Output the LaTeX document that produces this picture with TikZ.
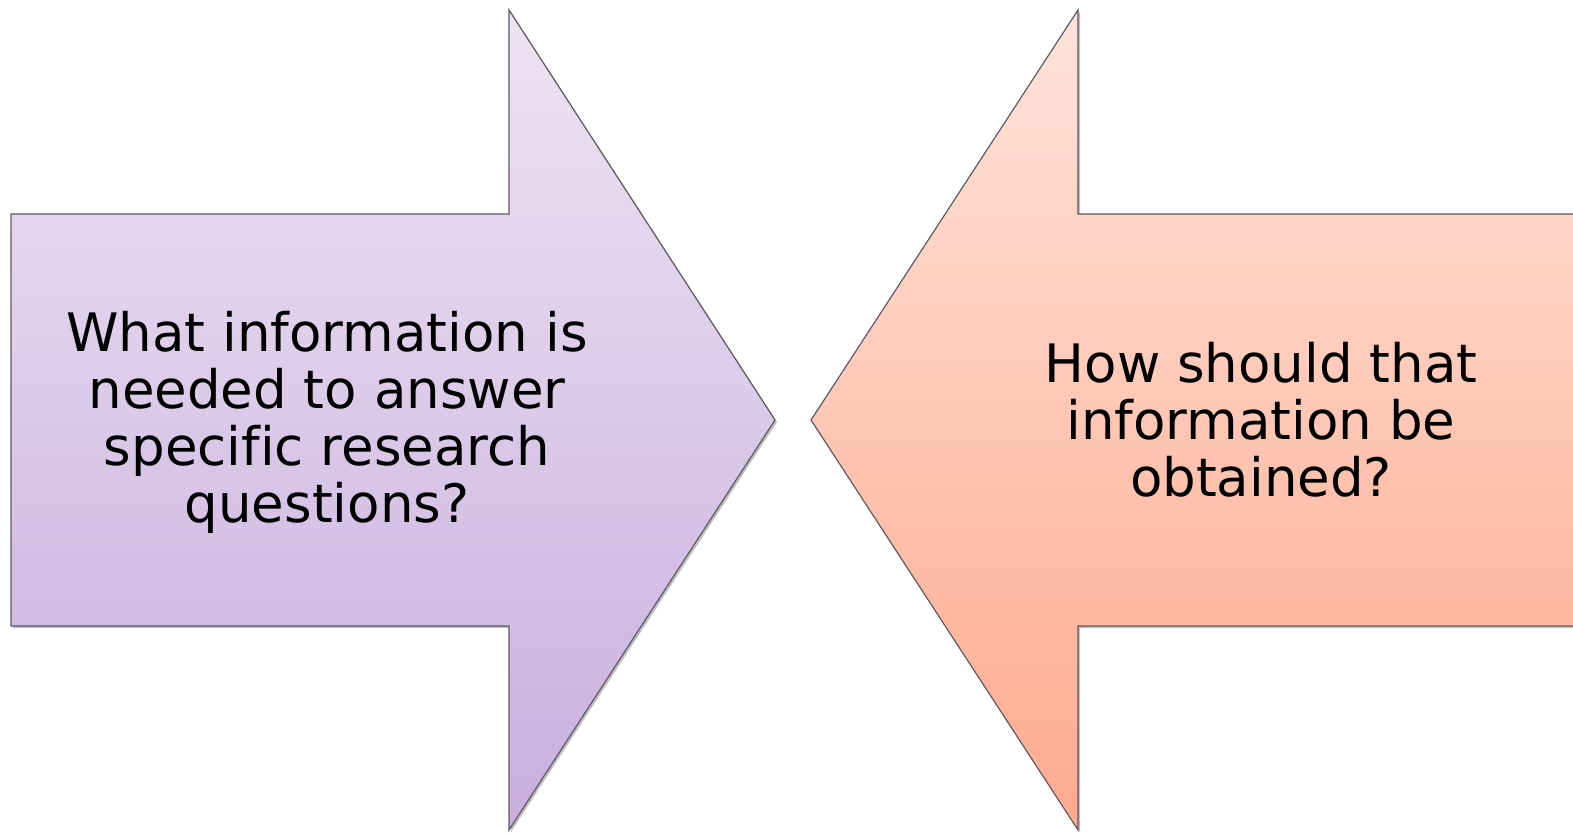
\documentclass[tikz,border=0pt]{standalone}
\usepackage{fontspec}
\setmainfont[Ligatures=NoCommon]{DejaVu Sans}
\usetikzlibrary{shadows}
\definecolor{purpTop}{HTML}{EDE4F3}
\definecolor{purpBot}{HTML}{C9AEDE}
\definecolor{salTop}{HTML}{FFE3DB}
\definecolor{salBot}{HTML}{FEAA8E}
\definecolor{edgeGray}{HTML}{5E5A62}
\tikzset{
  arrowshape/.style={draw=edgeGray, line width=1.2pt, line join=miter,
    drop shadow={shadow xshift=2pt, shadow yshift=-2pt, opacity=0.25, fill=black}},
  label/.style={align=center, font=\fontsize{53}{57}\selectfont, text=black, inner sep=0pt}
}
\begin{document}
\begin{tikzpicture}[x=1pt,y=-1pt]
\useasboundingbox (0,0) rectangle (1573,834);
\clip (0,0) rectangle (1573,834);
\path[arrowshape, top color=purpTop, bottom color=purpBot]
  (11,214) -- (509,214) -- (509,10) -- (775,420) -- (509,830) -- (509,626) -- (11,626) -- cycle;
\path[arrowshape, top color=salTop, bottom color=salBot]
  (1600,214) -- (1078,214) -- (1078,10) -- (811,420) -- (1078,830) -- (1078,626) -- (1600,626) -- cycle;
\node[label] (left) at (327,422) {What information is\\needed to answer\\specific research\\questions?};
\node[label] (right) at (1261,420) {How should that\\information be\\obtained?};
\end{tikzpicture}
\end{document}
